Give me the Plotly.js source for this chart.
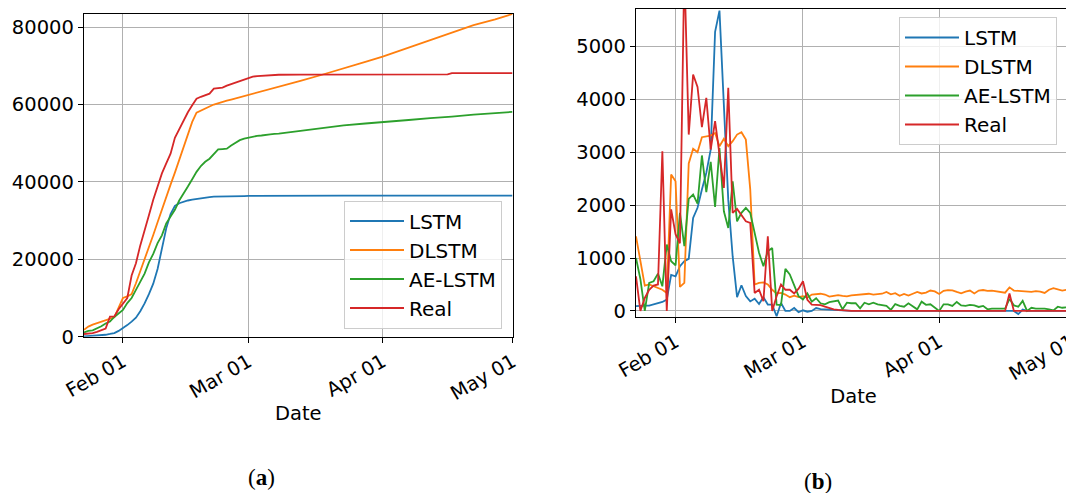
<!DOCTYPE html>
<html>
<head>
<meta charset="utf-8">
<script src="https://cdn.plot.ly/plotly-3.0.1.min.js"></script>
<style>
html,body{margin:0;padding:0;background:#fff;overflow:hidden;}
#chart{width:1071px;height:493px;}
</style>
</head>
<body>
<div id="chart"></div>
<script>
// ---------- data ----------
const startDate = [2020, 0, 23];           // first day shown (Jan 23)
const seriesNames = ['LSTM', 'DLSTM', 'AE-LSTM', 'Real'];
const seriesColors = ['#1f77b4', '#ff7f0e', '#2ca02c', '#d62728'];
const xTickVals = ['2020-02-01', '2020-03-01', '2020-04-01', '2020-05-01'];
const leftYTicks = [0, 20000, 40000, 60000, 80000];
const rightYTicks = [0, 1000, 2000, 3000, 4000, 5000];
const panelLabels = ['(<b>a</b>)', '(<b>b</b>)'];
const axisTitle = 'Date';

// (a) cumulative, read at these day offsets from Jan 23
const cumDay = [0,1,2,3,4,5,6,7,8,9,10,11,12,13,14,15,16,17,18,19,20,21,22,23,24,25,26,27,28,29,
  30,31,32,33,34,35,36,37,38,39,40,41,42,43,44,45,50,55,60,65,69,75,80,84,85,90,95,99];
const lstmCum = [100,150,200,250,400,500,700,950,1500,2200,
  3000,3900,4900,6600,8600,11000,13700,17500,22500,28000,
  31700,33800,34500,34900,35200,35400,35600,35800,35950,36100,
  36200,36250,36250,36300,36300,36320,36350,36350,36370,36380,
  36390,36400,36400,36410,36410,36420,36430,36440,36440,36450,36450,36450,36460,36460,36460,36460,36460,36460];
const dlstmCum = [1800,2600,3100,3500,3900,4300,4700,5000,7500,10000,
  10400,11000,13800,16800,19800,23000,26300,29600,33000,36100,
  39300,42400,45600,48900,52300,55500,57900,58500,59000,59500,
  60000,60400,60700,61000,61300,61600,61850,62100,62400,62700,
  63000,63300,63650,63950,64250,64550,66100,67700,69300,71000,72400,74700,76700,78200,78600,80500,82000,83400];
const aeCum = [1100,1500,1650,2150,2700,3400,3900,5100,6000,6900,
  8700,10000,12100,14300,16300,19200,21400,24200,26200,29300,
  31200,32800,35200,36900,38800,40700,42600,44100,45200,46000,
  47100,48400,48500,48600,49400,50100,50800,51200,51500,51700,
  51900,52000,52200,52300,52400,52500,53200,53900,54600,55100,55400,56000,56500,56700,56900,57400,57800,58100];
const realCum = [700,750,950,1250,1650,2100,5200,5250,7100,8600,
  10000,15800,19000,23600,27800,31400,35400,38600,42200,44800,
  47300,51400,53700,55900,58000,59800,61500,62000,62500,62800,
  64100,64200,64400,64900,65300,65700,66100,66600,67000,67200,
  67350,67450,67550,67620,67680,67700,67750,67760,67760,67770,67770,67770,67780,67780,68110,68120,68120,68120];

// (b) daily values, one per day from Jan 23 to May 1
const lstmDaily = [90,100,100,100,120,150,170,215,680,655,
  845,940,985,1760,1950,2295,2610,3050,5280,5680,
  3800,2100,1030,260,485,280,180,230,130,260,
  120,120,-100,150,0,0,55,-25,12,-15,
  0,55,35,30,20,10,5,0,0,0,
  0,0,0,0,0,0,0,0,0,0,
  0,0,0,0,0,0,0,0,0,0,
  0,0,0,0,0,0,0,0,0,0,
  0,0,0,0,0,0,0,-60,25,0,
  0,0,0,0,0,0,0,0,0,0];
const dlstmDaily = [1410,970,480,500,465,435,400,340,2580,2450,
  455,530,2790,3065,3000,3285,3305,3315,3365,3115,
  3255,3115,3210,3335,3380,3240,2300,500,530,540,
  500,400,330,340,310,260,290,260,280,250,
  310,320,325,310,270,285,300,285,275,295,
  300,315,310,325,310,315,325,360,315,335,
  285,320,290,325,360,330,345,385,370,320,
  380,395,390,360,333,365,385,330,385,395,
  380,385,370,350,345,445,385,380,375,370,
  360,375,365,340,400,430,405,385,400,405];
const aeDaily = [1000,600,0,530,560,705,465,1255,940,860,
  1855,1225,2120,2200,2030,2940,2245,2820,1965,3080,
  1885,1570,2450,1695,1855,1950,1855,1475,1100,845,
  1130,1190,120,110,795,690,465,280,215,330,
  175,240,145,125,165,175,195,30,155,145,
  145,50,155,125,155,125,115,95,20,130,
  95,80,145,80,30,175,115,125,60,0,
  125,125,95,170,105,95,115,105,75,95,
  30,45,45,45,45,230,105,80,190,0,
  60,45,50,45,30,10,80,60,70,80];
const realDaily = [655,0,245,400,480,500,3020,0,1920,1450,
  1280,6500,3335,4470,4237,3474,4029,3052,3588,3000,
  2327,4218,1854,1930,1820,1696,1665,340,400,183,
  1412,0,277,500,400,400,330,420,560,210,
  120,120,110,80,50,30,20,10,0,0,
  0,0,0,0,0,0,0,0,0,0,
  0,0,0,0,0,0,0,0,0,0,
  0,0,0,0,0,0,0,0,0,0,
  0,0,0,0,0,330,0,0,0,0,
  0,0,0,0,0,0,0,0,0,0];

// ---------- helpers ----------
function dayToDate(i) {
  const d = new Date(Date.UTC(startDate[0], startDate[1], startDate[2] + i));
  return d.toISOString().slice(0, 10);
}
const cumDates = cumDay.map(dayToDate);
const dailyDates = lstmDaily.map((_, i) => dayToDate(i));

const cumSeries = [lstmCum, dlstmCum, aeCum, realCum];
const dailySeries = [lstmDaily, dlstmDaily, aeDaily, realDaily];

const traces = [];
cumSeries.forEach((ys, k) => traces.push({
  type: 'scatter', mode: 'lines', x: cumDates, y: ys, name: seriesNames[k],
  line: {color: seriesColors[k], width: 1.8}, xaxis: 'x', yaxis: 'y', legend: 'legend'
}));
dailySeries.forEach((ys, k) => traces.push({
  type: 'scatter', mode: 'lines', x: dailyDates, y: ys, name: seriesNames[k],
  line: {color: seriesColors[k], width: 1.8}, xaxis: 'x2', yaxis: 'y2', legend: 'legend2'
}));

// ---------- layout ----------
const W = 1071, H = 493;
const FONT = 'DejaVu Sans, sans-serif';
const tickFont = {family: FONT, size: 19.5, color: '#000'};
function xAxis(domain, anchor, standoff) {
  return {
    domain: domain, anchor: anchor, type: 'date',
    range: [dayToDate(0), '2020-05-01'],
    tickvals: xTickVals, tickformat: '%b %d', tickangle: -30,
    tickfont: tickFont, ticks: 'outside', ticklen: 5, tickcolor: '#000', tickwidth: 1,
    ticklabeloverflow: 'allow',
    showline: true, mirror: true, linecolor: '#000', linewidth: 1.2,
    showgrid: true, gridcolor: '#b0b0b0', gridwidth: 1, zeroline: false,
    title: {text: axisTitle, font: {family: FONT, size: 19.5, color: '#000'}, standoff: standoff},
    automargin: false
  };
}
function yAxis(domain, anchor, range, ticks) {
  return {
    domain: domain, anchor: anchor, range: range, tickvals: ticks, tickformat: 'd',
    tickfont: tickFont, ticks: 'outside', ticklen: 5, tickcolor: '#000', tickwidth: 1,
    showline: true, mirror: true, linecolor: '#000', linewidth: 1.2,
    showgrid: true, gridcolor: '#b0b0b0', gridwidth: 1, zeroline: false,
    automargin: false
  };
}
const legendStyle = {
  font: {family: FONT, size: 20, color: '#000'},
  bgcolor: 'rgba(255,255,255,0.8)', bordercolor: '#cccccc', borderwidth: 1,
  xanchor: 'left', yanchor: 'top', itemwidth: 54
};

const layout = {
  width: W, height: H,
  margin: {l: 0, r: 0, t: 0, b: 0},
  paper_bgcolor: '#fff', plot_bgcolor: '#fff',
  showlegend: true,
  xaxis: xAxis([84 / W, 512.5 / W], 'y', 2),
  yaxis: yAxis([(H - 336.7) / H, (H - 14) / H], 'x', [0, 83400], leftYTicks),
  xaxis2: xAxis([636 / W, 1], 'y2', 5),
  yaxis2: yAxis([(H - 317) / H, (H - 9) / H], 'x2', [-115, 5710], rightYTicks),
  legend: Object.assign({x: 344 / W, y: (H - 200.5) / H}, legendStyle),
  legend2: Object.assign({x: 899 / W, y: (H - 17) / H}, legendStyle),
  annotations: [
    {text: panelLabels[0], xref: 'paper', yref: 'paper', x: 261.5 / W, y: (H - 477) / H,
     xanchor: 'center', yanchor: 'middle',
     showarrow: false, font: {family: 'Liberation Serif, serif', size: 23, color: '#000'}},
    {text: panelLabels[1], xref: 'paper', yref: 'paper', x: 818 / W, y: (H - 481) / H,
     xanchor: 'center', yanchor: 'middle',
     showarrow: false, font: {family: 'Liberation Serif, serif', size: 23, color: '#000'}}
  ]
};

Plotly.newPlot('chart', traces, layout, {staticPlot: true, displayModeBar: false});
</script>
</body>
</html>
